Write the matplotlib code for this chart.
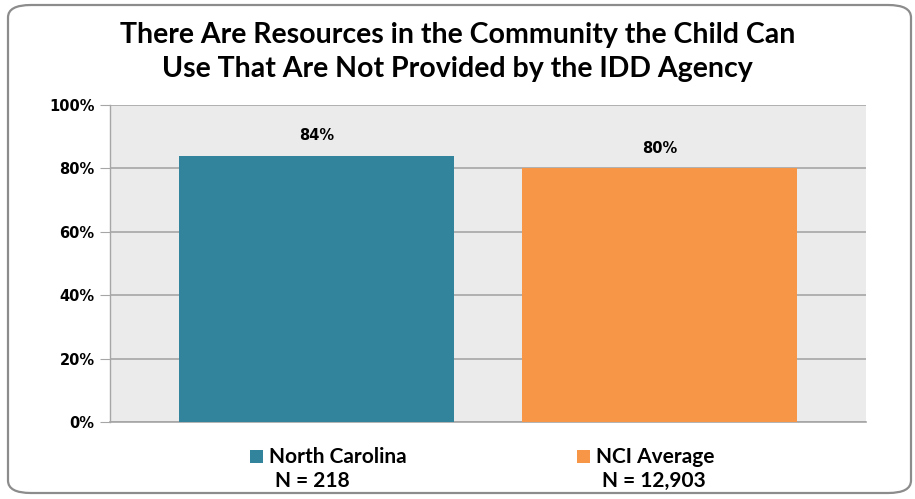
import matplotlib
matplotlib.use("Agg")
import matplotlib.pyplot as plt
from matplotlib.patches import FancyBboxPatch, Rectangle

series = ["North Carolina", "NCI Average"]
ns = ["N = 218", "N = 12,903"]
values = [84, 80]
colors = ["#31849B", "#F79646"]
yticks = [0, 20, 40, 60, 80, 100]
title = "There Are Resources in the Community the Child Can\nUse That Are Not Provided by the IDD Agency"

W, H = 915, 499
fig = plt.figure(figsize=(W / 100, H / 100), dpi=100)
fig.patch.set_facecolor("white")

# rounded border
border = FancyBboxPatch((8 / W, 6 / H), 903 / W, 488 / H,
                        boxstyle="round,pad=0,rounding_size=0.025",
                        transform=fig.transFigure, facecolor="none",
                        edgecolor="#8C8C8C", linewidth=1.6)
fig.patches.append(border)

ax = fig.add_axes([110 / W, 1 - 422 / H, 756 / W, 317 / H])
ax.set_facecolor("#EBEBEB")
x = [0, 1]
bars = ax.bar(x, values, width=0.80, color=colors, zorder=3)
ax.set_xlim(-0.602, 1.602)
ax.set_ylim(0, 100)
ax.set_yticks(yticks)
ax.set_yticklabels([f"{v}%" for v in yticks], fontsize=10.5, fontweight="bold",
                   family="DejaVu Sans")
ax.yaxis.grid(True, color="#A6A6A6", linewidth=1.2, zorder=1)
ax.set_xticks([])
for s in ["top", "right"]:
    ax.spines[s].set_visible(False)
ax.spines["left"].set_color("#A6A6A6")
ax.spines["bottom"].set_color("#A6A6A6")
ax.spines["left"].set_linewidth(1.0)
ax.spines["bottom"].set_linewidth(1.2)
ax.tick_params(axis="y", length=7, color="#A6A6A6", pad=4)

for xi, v in zip(x, values):
    ax.annotate(f"{v}%", (xi, v), xytext=(0, 9), textcoords="offset points",
                ha="center", va="bottom", fontsize=10.5, fontweight="bold",
                family="DejaVu Sans")

fig.text(0.5, 1 - 52 / H, title, ha="center", va="center", fontsize=20.5,
         fontweight="bold", family="Lato", linespacing=1.36)

# legend
leg_items = [(250, series[0], ns[0]), (577, series[1], ns[1])]
for (lx, name, n), c in zip(leg_items, colors):
    fig.patches.append(Rectangle((lx / W, 1 - 463 / H), 13 / W, 13 / H,
                                 transform=fig.transFigure, facecolor=c, edgecolor="none"))
    fig.text((lx + 19) / W, 1 - 457 / H, name, ha="left", va="center",
             fontsize=15, fontweight="bold", family="Lato")
    fig.text((lx + 25) / W, 1 - 481 / H, n, ha="left", va="center",
             fontsize=15, fontweight="bold", family="Lato")

fig.savefig("out.png", dpi=100)
